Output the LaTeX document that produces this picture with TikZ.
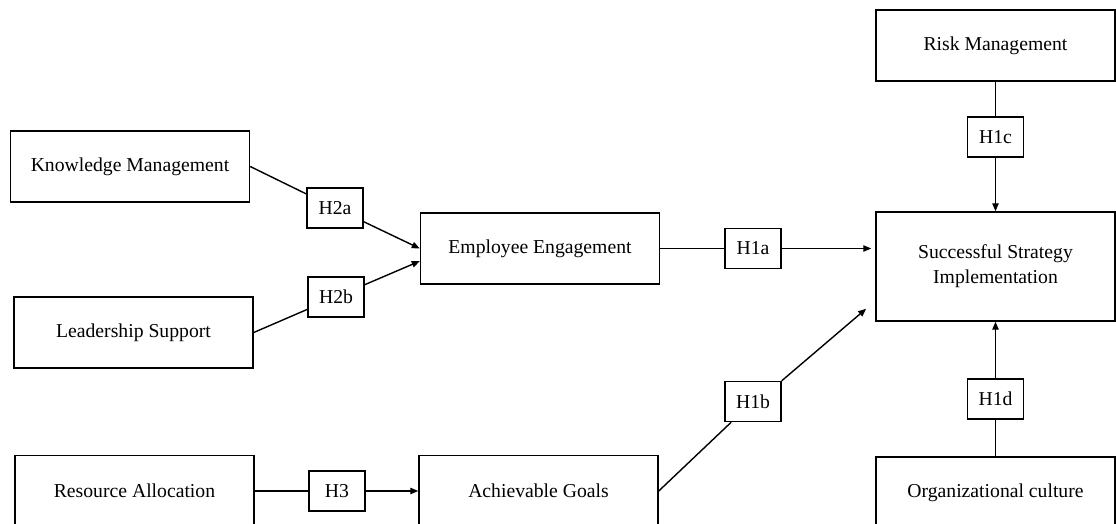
\documentclass[tikz,border=0pt]{standalone}
\usepackage{fontspec}
\setmainfont{Liberation Serif}
\usetikzlibrary{arrows.meta}

\begin{document}
\begin{tikzpicture}[x=0.025cm,y=-0.025cm,
		factor/.style={draw,line width=1pt,minimum width=5.975cm,minimum height=1.775cm,inner sep=0pt,align=center,font=\fontsize{14}{17.8}\selectfont},
		hyp/.style={draw,line width=1pt,minimum width=1.4cm,minimum height=1cm,inner sep=0pt,font=\fontsize{14}{17.8}\selectfont},
		link/.style={line width=1pt},
		arr/.style={line width=1pt,-{Triangle[length=2mm,width=1.6mm]}}]
			\useasboundingbox (0,0) rectangle (1116,524);
			\clip (0,0) rectangle (1116,524);
			\node [factor] (km) at (130,166.5) {Knowledge Management};
			\node [factor] (ls) at (133.5,332.5) {Leadership Support};
			\node [factor] (ee) at (540,248.5) {Employee Engagement};
			\node [factor] (rm) at (995.5,45.5) {Risk Management};
			\node [factor,minimum height=2.725cm] (ssi) at (995.5,266.5) {Successful Strategy\\Implementation};
			\node [factor] (ra) at (134.5,491) {Resource Allocation};
			\node [factor] (ag) at (538.5,491) {Achievable Goals};
			\node [factor] (oc) at (995.5,492.5) {Organizational culture};
			\node [hyp] (h2a) at (335,208) {H2a};
			\node [hyp] (h2b) at (336,297) {H2b};
			\node [hyp] (h1a) at (753,248.5) {H1a};
			\node [hyp] (h1c) at (995.5,137) {H1c};
			\node [hyp] (h1b) at (753,401.5) {H1b};
			\node [hyp] (h1d) at (995.5,399) {H1d};
			\node [hyp] (h3) at (337,491) {H3};
			\draw [link] (km.east)-- (h2a);
			\draw [arr] (h2a)-- (ee.west);
			\draw [link] (ls.east)-- (h2b);
			\draw [arr] (h2b)-- (ee.186);
			\draw [link] (ee)-- (h1a);
			\draw [arr,shorten >=0.1cm] (h1a)-- (h1a -| ssi.west);
			\draw [link] (rm)-- (h1c);
			\draw [arr] (h1c)-- (ssi);
			\draw [link] (ag.east)-- (h1b);
			\draw [arr,shorten >=0.3cm] (h1b.north east)-- (ssi.196);
			\draw [link] (oc)-- (h1d);
			\draw [arr] (h1d)-- (ssi);
			\draw [link] (ra)-- (h3);
			\draw [arr] (h3)-- (ag);
		\end{tikzpicture}
\end{document}
